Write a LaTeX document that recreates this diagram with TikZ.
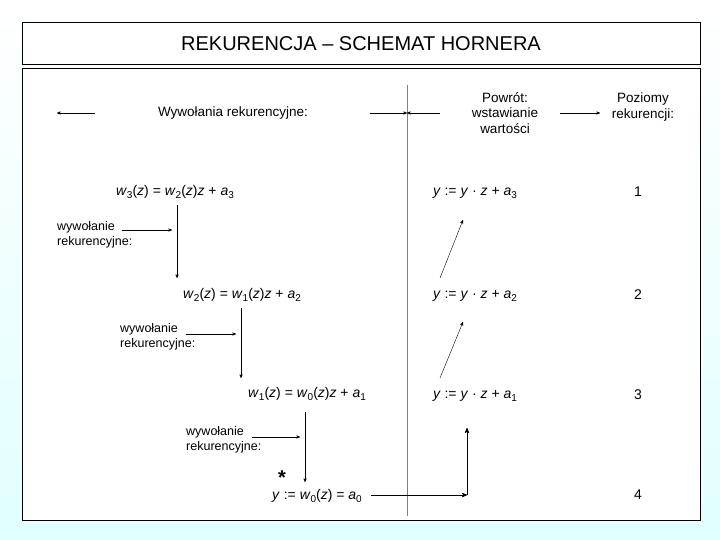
\documentclass[tikz,border=0pt]{standalone}
\usepackage{fontspec}
\setmainfont{Liberation Sans}
\usetikzlibrary{arrows,positioning}
\newcommand{\vr}[2]{\textit{#1}\raisebox{-0.45ex}{\fontsize{10}{10}\selectfont #2}}
\begin{document}
\begin{tikzpicture}[x=1pt, y=-1pt, font=\fontsize{13.5}{15.5}\selectfont]
\tikzset{
    eqnode/.style={inner sep=1pt, font=\fontsize{14}{16}\selectfont},
    lvlnode/.style={inner sep=1pt, font=\fontsize{14}{16}\selectfont},
    callnode/.style={align=left, anchor=north west, inner sep=0pt, font=\fontsize{12.5}{15}\selectfont},
    hdnode/.style={align=center, inner sep=1pt},
    myarrow/.style={->, >=stealth', shorten >=0pt},
    backarrow/.style={->, >=stealth', thick}
}
% background and frames
\shade[top color=white, bottom color=cyan!12] (0,0) rectangle (720,540);
\useasboundingbox (0,0) rectangle (720,540);
\draw[fill=white] (22,22) rectangle (700,64);
\node[font=\fontsize{20}{24}\selectfont] (title) at (361,44) {REKURENCJA – SCHEMAT HORNERA};
\draw[fill=white] (22,68) rectangle (700,520);
\draw[gray, thick] (407,85) -- (407,516);

% header row
\node[hdnode] (calls) at (233,113) {Wywołania rekurencyjne:};
\node[hdnode] (ret) at (505,113) {Powrót:\\wstawianie\\wartości};
\node[hdnode] (levels) at (643,107) {Poziomy\\rekurencji:};
\coordinate (mid) at (407,113);
\draw[myarrow] (95,113) -- (57,113);
\draw[myarrow] (370,113) -- (mid);
\draw[myarrow] (440,113) -- (mid);
\draw[myarrow] (560,113) -- (600,113);

% left column: calls
\node[eqnode] (w3) at (175,192) {\vr{w}{3}(\textit{z}) = \vr{w}{2}(\textit{z})\textit{z} + \vr{a}{3}};
\node[eqnode] (w2) at (242,295) {\vr{w}{2}(\textit{z}) = \vr{w}{1}(\textit{z})\textit{z} + \vr{a}{2}};
\node[eqnode] (w1) at (307,394) {\vr{w}{1}(\textit{z}) = \vr{w}{0}(\textit{z})\textit{z} + \vr{a}{1}};
\node[eqnode] (w0) at (317,496) {\textit{y} := \vr{w}{0}(\textit{z}) = \vr{a}{0}};
\node[font=\bfseries\fontsize{20}{20}\selectfont, inner sep=0pt] (star) at (282,478) {*};

\draw[myarrow] (177,205) -- (177,278);
\draw[myarrow] (241,308) -- (241,378);
\draw[myarrow] (305,412) -- (305,482);

\node[callnode] (c1) at (57,221) {wywołanie\\rekurencyjne:};
\node[callnode] (c2) at (120,323) {wywołanie\\rekurencyjne:};
\node[callnode] (c3) at (186,426) {wywołanie\\rekurencyjne:};
\draw[myarrow] (122,230) -- (172,230);
\draw[myarrow] (186,334) -- (236,334);
\draw[myarrow] (252,437) -- (300,437);

% right column: returns
\node[eqnode] (y3) at (475,193) {\textit{y} := \textit{y} · \textit{z} + \vr{a}{3}};
\node[eqnode] (y2) at (475,296) {\textit{y} := \textit{y} · \textit{z} + \vr{a}{2}};
\node[eqnode] (y1) at (475,396) {\textit{y} := \textit{y} · \textit{z} + \vr{a}{1}};
\coordinate (corner) at (467,495);
\draw[myarrow] (440,278) -- (463,220);
\draw[myarrow] (440,378) -- (463,322);
\draw[backarrow] (w0.east |- corner) ++(8,0) -- (corner);
\draw[backarrow] (corner) -- (467,428);

% levels
\node[lvlnode] (l1) at (638,192) {1};
\node[lvlnode] (l2) at (638,295) {2};
\node[lvlnode] (l3) at (638,395) {3};
\node[lvlnode] (l4) at (638,495) {4};
\end{tikzpicture}
\end{document}
